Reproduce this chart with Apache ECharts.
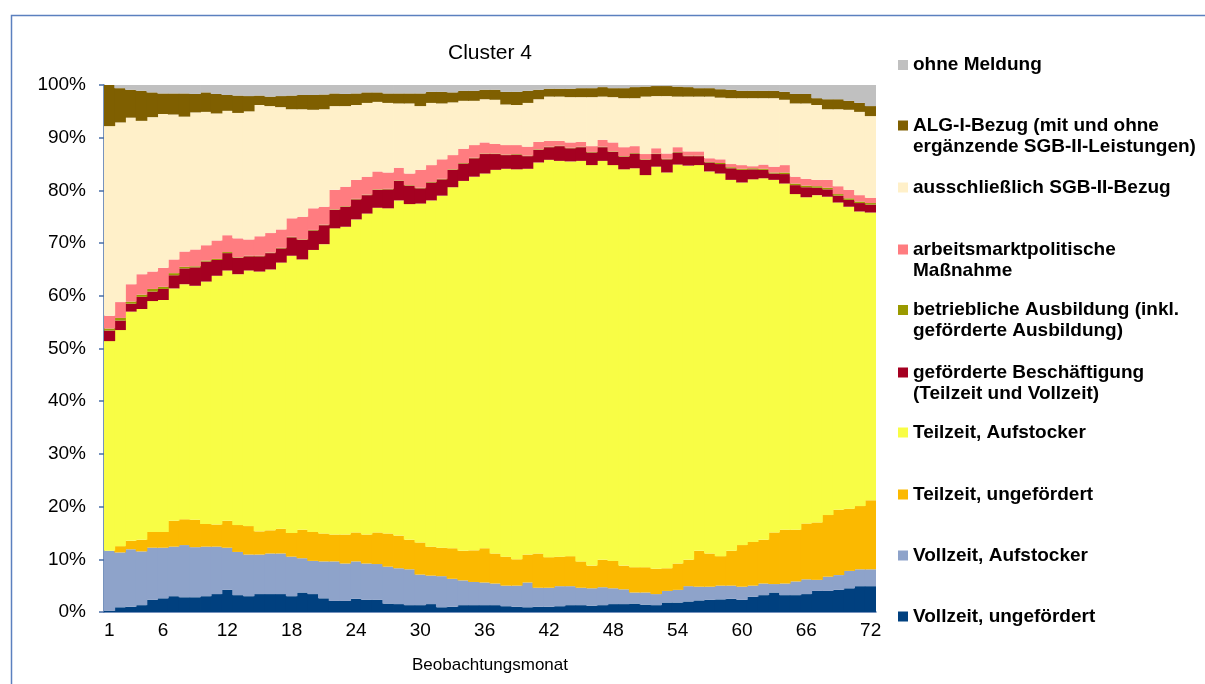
<!DOCTYPE html>
<html>
<head>
<meta charset="utf-8">
<script src="https://cdn.jsdelivr.net/npm/echarts@6/dist/echarts.min.js"></script>
<style>
html,body{margin:0;padding:0;background:#fff;}
#chart{width:1205px;height:684px;}
</style>
</head>
<body>
<div id="chart"></div>
<script>
// Beobachtungsmonate (categories)
const months = ['1','2','3','4','5','6','7','8','9','10','11','12','13','14','15','16','17','18','19','20',
'21','22','23','24','25','26','27','28','29','30','31','32','33','34','35','36','37','38','39','40',
'41','42','43','44','45','46','47','48','49','50','51','52','53','54','55','56','57','58','59','60',
'61','62','63','64','65','66','67','68','69','70','71','72'];
const shownTicks = ['1','6','12','18','24','30','36','42','48','54','60','66','72'];
const yTicks = [0,10,20,30,40,50,60,70,80,90,100];

// Anteile in Prozent je Beobachtungsmonat
const vollzeitUngefoerdert = [0.2,0.9,1.0,1.3,2.3,2.6,3.0,2.8,2.8,3.0, 3.4,4.2,3.2,3.0,3.4,3.4,3.4,3.0,3.7,3.4,
 2.6,2.1,2.1,2.5,2.3,2.3,1.6,1.5,1.3,1.3, 1.5,0.9,1.0,1.3,1.3,1.3,1.3,1.1,1.0,0.9,
 1.0,1.0,1.1,1.3,1.3,1.2,1.3,1.5,1.5,1.6, 1.4,1.3,1.8,1.8,2.0,2.2,2.3,2.4,2.5,2.3,
 2.9,3.2,3.7,3.2,3.2,3.4,4.0,4.0,4.2,4.5, 4.9,4.9];
const vollzeitAufstocker = [11.4,10.4,10.9,10.2,9.9,9.6,9.4,9.9,9.5,9.4, 9.0,8.0,8.2,7.9,7.5,7.7,7.7,7.5,6.5,6.3,
 7.0,7.5,7.1,7.1,6.9,6.8,7.0,6.8,6.8,5.8, 5.4,5.9,5.3,4.7,4.4,4.3,4.1,3.9,4.0,4.7,
 3.6,3.6,3.8,3.6,3.3,3.3,3.4,3.0,2.8,2.1, 2.3,2.1,2.2,2.4,2.9,2.6,2.5,2.6,2.5,2.5,
 2.1,2.2,1.6,2.2,2.6,2.8,2.1,2.7,2.8,3.3, 3.2,3.2];
const teilzeitUngefoerdert = [0.0,1.2,1.6,2.2,3.0,3.0,4.9,4.9,5.2,4.3, 4.2,5.1,5.1,5.4,4.4,4.4,4.7,4.5,5.4,5.5,
 5.3,5.1,5.5,5.5,5.5,6.0,6.3,6.2,5.6,6.1, 5.5,5.4,5.8,5.6,6.0,6.5,5.7,5.5,5.0,5.3,
 6.5,5.8,5.6,5.7,5.0,4.3,5.2,5.2,4.5,4.8, 4.8,4.8,4.3,5.0,5.0,6.8,6.3,5.6,6.6,7.9,
 8.3,8.3,9.8,10.2,9.8,10.6,10.9,11.7,12.4,11.8, 12.0,13.1];
const teilzeitAufstocker = [39.8,41.0,43.5,43.8,43.8,44.0,44.1,44.6,44.4,46.0, 47.2,47.5,47.6,48.5,49.3,49.5,50.5,52.6,51.3,53.5,
 54.9,58.1,58.4,59.4,60.9,61.6,61.7,63.6,63.7,64.3, 65.7,66.8,68.5,70.2,70.9,71.1,72.8,73.6,74.0,73.2,
 74.2,75.4,75.1,74.9,76.0,76.0,75.7,75.1,75.2,75.7, 74.4,76.3,75.1,75.7,74.8,73.2,72.5,72.6,70.4,68.8,
 68.8,68.6,66.9,65.7,63.7,61.9,62.1,60.4,58.3,57.3, 55.9,54.6];
const gefoerderteBeschaeftigung = [2.0,1.8,1.5,2.3,1.8,2.1,2.5,3.0,3.5,3.8, 3.0,3.3,3.1,2.7,2.9,3.1,2.7,3.5,3.7,3.7,
 3.6,3.5,3.8,3.8,3.5,3.4,3.6,3.7,3.5,2.9, 3.4,3.1,3.3,3.3,3.5,3.7,3.0,2.6,2.8,2.4,
 2.4,2.4,2.8,2.5,2.6,2.4,2.6,2.5,2.4,2.8, 2.9,2.4,2.5,2.3,1.8,1.7,1.7,1.8,2.2,2.4,
 1.9,1.6,1.2,1.8,1.7,1.9,1.4,1.4,1.3,1.3, 1.6,1.5];
const betrieblicheAusbildung = [0.4,0.5,0.4,0.4,0.5,0.4,0.4,0.3,0.2,0.2, 0.2,0.2,0.1,0.1,0.1,0.1,0.1,0.1,0.1,0.1,
 0.1,0.1,0.1,0.1,0.1,0.1,0.1,0.1,0.1,0.1, 0.1,0.1,0.1,0.1,0.1,0.1,0.1,0.1,0.1,0.1,
 0.1,0.1,0.1,0.1,0.1,0.1,0.1,0.1,0.1,0.1, 0.1,0.1,0.1,0.1,0.1,0.1,0.1,0.2,0.2,0.2,
 0.2,0.2,0.2,0.3,0.3,0.3,0.3,0.3,0.3,0.3, 0.3,0.3];
const arbeitsmarktMassnahme = [2.4,3.0,3.3,3.9,3.3,3.6,2.6,2.9,3.2,2.9, 3.5,3.2,3.6,3.1,3.7,3.7,3.5,3.5,4.3,4.1,
 3.4,3.7,3.7,3.6,3.4,3.4,3.1,2.4,2.2,3.4, 3.2,3.7,2.7,2.7,2.4,2.1,1.8,1.8,1.7,1.7,
 1.4,1.1,0.9,1.0,0.9,1.1,1.3,1.7,1.7,1.3, 1.0,1.0,1.0,0.9,0.8,0.8,0.7,0.7,0.6,0.7,
 0.4,0.8,1.1,1.4,1.3,1.3,1.2,1.5,1.5,1.6, 1.2,1.0];
const sgb2Bezug = [36.0,34.1,31.6,29.1,29.3,29.2,27.5,25.6,26.0,25.3, 24.1,23.6,23.8,24.3,24.9,24.1,23.2,20.7,20.4,18.7,
 18.5,15.9,15.3,14.2,14.0,13.2,13.2,12.2,13.3,12.1, 11.8,10.6,10.0,9.1,8.4,8.2,8.4,7.7,7.6,8.3,
 8.1,8.4,8.4,8.6,8.5,9.3,8.2,8.6,9.3,9.1, 10.9,9.9,10.9,9.6,10.4,10.4,11.7,11.7,12.5,12.7,
 12.9,12.6,13.0,12.4,13.9,14.3,14.2,13.4,14.6,15.2, 15.8,15.5];
const alg1Bezug = [7.8,6.5,5.3,5.7,4.7,3.9,4.0,4.4,3.5,3.7, 3.7,3.0,3.3,2.9,1.8,1.8,2.1,2.6,2.7,2.8,
 2.8,2.4,2.3,2.2,2.0,1.8,1.8,1.9,1.9,2.4, 2.1,2.2,1.9,1.9,1.9,1.8,1.9,2.4,2.5,2.3,
 1.8,1.5,1.5,1.6,1.7,1.7,1.8,1.7,1.9,2.1, 1.9,1.9,1.9,1.9,1.8,1.6,1.6,1.6,1.6,1.4,
 1.4,1.4,1.4,1.5,1.8,1.8,1.3,1.9,1.9,1.7, 1.7,1.9];
const ohneMeldung = [0.0,0.6,0.9,1.1,1.4,1.6,1.6,1.6,1.7,1.4, 1.7,1.9,2.0,2.1,2.0,2.2,2.1,2.0,1.9,1.9,
 1.8,1.6,1.7,1.6,1.4,1.4,1.6,1.6,1.6,1.6, 1.3,1.3,1.4,1.1,1.1,0.9,0.9,1.3,1.3,1.1,
 0.9,0.7,0.7,0.7,0.6,0.6,0.4,0.6,0.6,0.4, 0.3,0.2,0.2,0.3,0.4,0.6,0.6,0.8,0.9,1.1,
 1.1,1.1,1.1,1.3,1.7,1.7,2.5,2.7,2.7,3.0, 3.4,4.0];

const seriesDefs = [
  {name:'Vollzeit, ungefördert', data:vollzeitUngefoerdert, color:'#00407f', label:'Vollzeit, ungefördert', c:616.5},
  {name:'Vollzeit, Aufstocker', data:vollzeitAufstocker, color:'#8ea3ca', label:'Vollzeit, Aufstocker', c:555.5},
  {name:'Teilzeit, ungefördert', data:teilzeitUngefoerdert, color:'#fbb900', label:'Teilzeit, ungefördert', c:494.5},
  {name:'Teilzeit, Aufstocker', data:teilzeitAufstocker, color:'#f8fd45', label:'Teilzeit, Aufstocker', c:432.5},
  {name:'geförderte Beschäftigung (Teilzeit und Vollzeit)', data:gefoerderteBeschaeftigung, color:'#a50021', label:['geförderte Beschäftigung','(Teilzeit und Vollzeit)'], c:372.5},
  {name:'betriebliche Ausbildung (inkl. geförderte Ausbildung)', data:betrieblicheAusbildung, color:'#9a9a00', label:['betriebliche Ausbildung (inkl.','geförderte Ausbildung)'], c:310},
  {name:'arbeitsmarktpolitische Maßnahme', data:arbeitsmarktMassnahme, color:'#ff7c80', label:['arbeitsmarktpolitische','Maßnahme'], c:249.5},
  {name:'ausschließlich SGB-II-Bezug', data:sgb2Bezug, color:'#fff0c9', label:'ausschließlich SGB-II-Bezug', c:187.5},
  {name:'ALG-I-Bezug (mit und ohne ergänzende SGB-II-Leistungen)', data:alg1Bezug, color:'#7f5f00', label:['ALG-I-Bezug (mit und ohne','ergänzende SGB-II-Leistungen)'], c:125.5},
  {name:'ohne Meldung', data:ohneMeldung, color:'#c0c0c0', label:'ohne Meldung', c:65}
];

const FONT = "'Liberation Sans', Arial, sans-serif";
const axisBlue = '#4a6fa8';

// one legend per entry so each sits at its own height; two-line entries get an
// empty first line so the icon lines up with the first text line
const legends = seriesDefs.map(function(s){
  const twoLine = Array.isArray(s.label);
  const text = twoLine ? ('\n' + s.label[0] + '\n' + s.label[1]) : s.label;
  return {
    data:[s.name],
    left: 898,
    top: twoLine ? s.c - 31.5 : s.c - 10.5,
    padding:0,
    orient:'vertical',
    icon:'rect',
    itemWidth:10, itemHeight:10,
    selectedMode:false,
    formatter: function(){ return text; },
    textStyle:{fontFamily:FONT, fontWeight:'bold', fontSize:19, color:'#000', lineHeight:21}
  };
});

const chart = echarts.init(document.getElementById('chart'), null, {renderer:'canvas'});
chart.setOption({
  animation:false,
  backgroundColor:'#fff',
  color: seriesDefs.map(s=>s.color),
  title:{text:'Cluster 4', left:490, textAlign:'center', top:43, padding:0,
    textStyle:{fontFamily:FONT, fontWeight:'normal', fontSize:21, color:'#000'}},
  graphic:[{type:'rect', left:9, top:13, shape:{width:1300, height:800},
    style:{fill:'none', stroke:'#5b80bf', lineWidth:1.5}, silent:true}],
  legend: legends,
  grid:{left:104, right:329, top:85, bottom:72, containLabel:false},
  xAxis:{
    type:'category', data:months,
    name:'Beobachtungsmonat', nameLocation:'middle', nameGap:45,
    nameTextStyle:{fontFamily:FONT, fontSize:17, color:'#000'},
    axisLine:{lineStyle:{color:axisBlue, width:1.5}},
    axisTick:{show:false},
    axisLabel:{fontFamily:FONT, fontSize:19, color:'#000', margin:9,
      interval:function(idx, val){ return shownTicks.indexOf(val) >= 0; }},
    splitLine:{show:false}
  },
  yAxis:{
    type:'value', min:0, max:100, interval:10,
    axisLine:{show:true, lineStyle:{color:axisBlue, width:1.5}},
    axisTick:{show:true, length:5, lineStyle:{color:axisBlue, width:1.5}},
    axisLabel:{fontFamily:FONT, fontSize:19, color:'#000', margin:18,
      formatter:function(v){ return yTicks.indexOf(v) >= 0 ? v + '%' : ''; }},
    splitLine:{show:false}
  },
  series: seriesDefs.map(function(s){
    return {
      name:s.name, type:'bar', stack:'total', data:s.data,
      barWidth:11.6,
      itemStyle:{color:s.color},
      emphasis:{disabled:true}
    };
  })
});
</script>
</body>
</html>
